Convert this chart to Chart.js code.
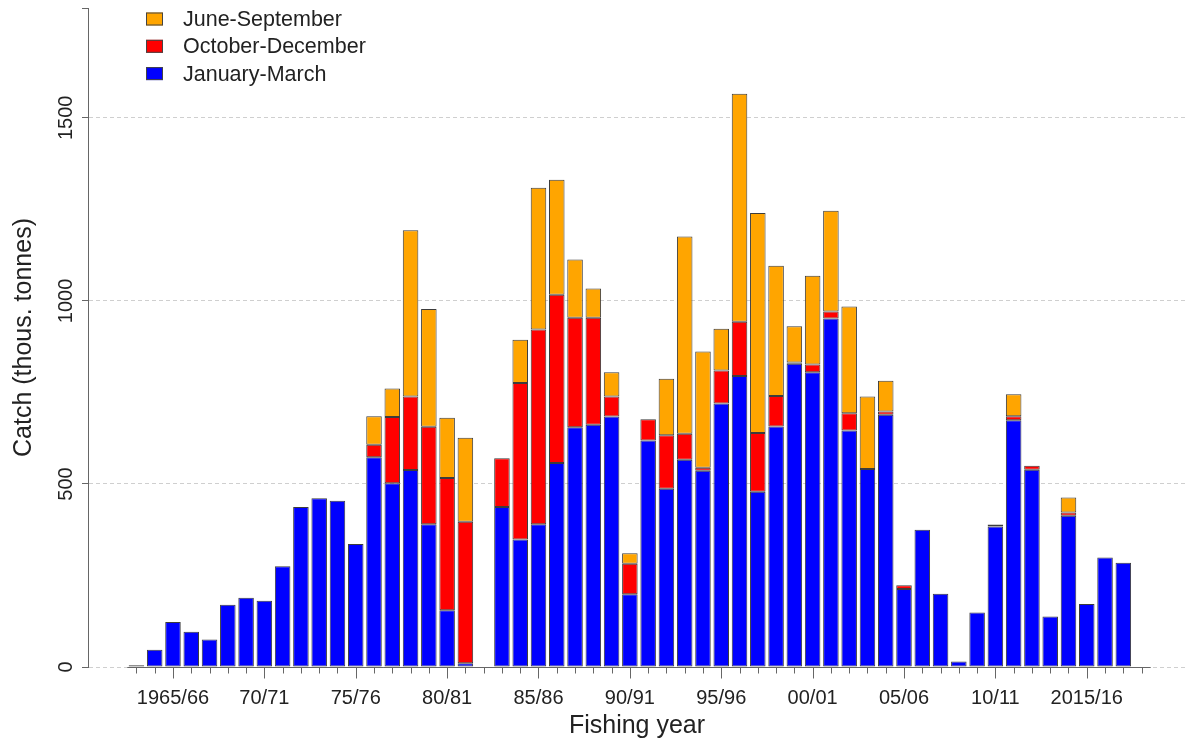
<!DOCTYPE html>
<html>
<head>
<meta charset="utf-8">
<script src="https://cdn.jsdelivr.net/npm/chart.js@4.4.1/dist/chart.umd.min.js"></script>
<style>
  html, body { margin: 0; padding: 0; background: #ffffff; }
  #wrap { width: 1186px; height: 744px; position: relative; }
</style>
</head>
<body>
<div id="wrap"><canvas id="c"></canvas></div>
<script>
// ---- Data ----
const years = ['1963/64','1964/65','1965/66','1966/67','1967/68','1968/69','1969/70','1970/71','1971/72','1972/73',
  '1973/74','1974/75','1975/76','1976/77','1977/78','1978/79','1979/80','1980/81','1981/82','1982/83',
  '1983/84','1984/85','1985/86','1986/87','1987/88','1988/89','1989/90','1990/91','1991/92','1992/93',
  '1993/94','1994/95','1995/96','1996/97','1997/98','1998/99','1999/00','2000/01','2001/02','2002/03',
  '2003/04','2004/05','2005/06','2006/07','2007/08','2008/09','2009/10','2010/11','2011/12','2012/13',
  '2013/14','2014/15','2015/16','2016/17','2017/18','2018/19'];

const janMar = [5,47,123,96,75,170,189,181,275,437,
  461,454,336,573,502,538,390,155,10,null,
  437,348,390,557,655,662,684,199,619,487,
  566,536,720,795,479,657,828,805,952,646,
  541,689,213,375,200,15,149,384,674,539,
  138,413,172,299,285,null];

const octDec = [null,null,null,null,null,null,null,null,null,null,
  null,null,null,34,181,201,266,361,387,null,
  133,428,532,460,299,292,55,83,58,146,
  71,8,90,148,160,83,4,21,19,47,
  null,9,10,null,null,null,null,5,11,11,
  null,9,null,null,null,null];

const junSep = [null,null,null,null,null,null,null,null,null,null,
  null,null,null,78,78,454,322,165,229,null,
  null,118,387,314,159,80,66,29,null,154,
  539,318,114,623,601,356,99,243,275,292,
  198,84,null,null,null,null,null,null,60,null,
  null,41,null,null,null,null];

const tickYears  = ['1965/66','1970/71','1975/76','1980/81','1985/86','1990/91','1995/96','2000/01','2005/06','2010/11','2015/16'];
const tickLabels = ['1965/66','70/71','75/76','80/81','85/86','90/91','95/96','00/01','05/06','10/11','2015/16'];
const yTicks = [0, 500, 1000, 1500];

const seriesNames  = ['January-March','October-December','June-September'];
const seriesColors = ['#0000ff','#ff0000','#ffa500'];

// ---- Build ----
const FONT = "'Liberation Sans', Arial, sans-serif";
const toPts = arr => arr.map((v, i) => ({x: i, y: v}));
const majorIdx = tickYears.map(t => years.indexOf(t));

const datasets = [janMar, octDec, junSep].map((arr, k) => ({
  label: seriesNames[k],
  data: toPts(arr),
  backgroundColor: seriesColors[k],
  borderColor: '#3c3c3c',
  borderWidth: 1,
  borderSkipped: false,
  barPercentage: 0.85,
  categoryPercentage: 1.0
}));

const axisPlugin = {
  id: 'rAxis',
  afterDraw(chart) {
    const {ctx, scales: {x, y}} = chart;
    const y0 = Math.round(y.getPixelForValue(0)) + 0.5;
    ctx.save();
    ctx.strokeStyle = '#666666';
    ctx.lineWidth = 1;
    ctx.beginPath();
    ctx.moveTo(x.getPixelForValue(-0.5), y0);
    ctx.lineTo(x.getPixelForValue(years.length - 0.5), y0);
    years.forEach((yr, i) => {
      const px = Math.round(x.getPixelForValue(i)) + 0.5;
      const len = majorIdx.includes(i) ? 11 : 6;
      ctx.moveTo(px, y0);
      ctx.lineTo(px, y0 + len);
    });
    ctx.stroke();

    // legend inside plot area (top-left), top entry = top of stack
    const ca = chart.chartArea;
    const order = chart.data.datasets.map((d, i) => i).reverse();
    ctx.font = '21.5px ' + FONT;
    ctx.textBaseline = 'middle';
    ctx.textAlign = 'left';
    order.forEach((di, k) => {
      const ds = chart.data.datasets[di];
      const cy = ca.top + 11 + k * 27.3;
      const bx = ca.left + 58;
      ctx.fillStyle = ds.backgroundColor;
      ctx.fillRect(bx, cy - 6.5, 17, 13);
      ctx.strokeStyle = '#444';
      ctx.strokeRect(bx + 0.5, cy - 6, 16, 12);
      ctx.fillStyle = '#222222';
      ctx.fillText(ds.label, ca.left + 95, cy + 1);
    });
    ctx.restore();
  }
};

new Chart(document.getElementById('c'), {
  type: 'bar',
  data: { datasets },
  options: {
    responsive: true,
    maintainAspectRatio: false,
    animation: false,
    layout: { padding: { top: 8, left: 0, right: 0, bottom: 0 } },
    plugins: { legend: { display: false }, tooltip: { enabled: false } },
    scales: {
      x: {
        type: 'linear',
        offset: false,
        stacked: true,
        min: -2.65,
        max: 57.43,
        afterBuildTicks: s => { s.ticks = majorIdx.map(v => ({ value: v })); },
        afterFit: s => { s.height = 77; },
        grid: { display: false, drawTicks: false, tickLength: 0, offset: false },
        border: { display: false },
        ticks: {
          autoSkip: false,
          maxRotation: 0,
          minRotation: 0,
          padding: 19,
          color: '#222222',
          font: { family: FONT, size: 20 },
          callback: v => { const k = majorIdx.indexOf(v); return k >= 0 ? tickLabels[k] : ''; }
        },
        title: {
          display: true,
          text: 'Fishing year',
          color: '#222222',
          font: { family: FONT, size: 25 },
          padding: { top: 0, bottom: 3 }
        }
      },
      y: {
        stacked: true,
        min: 0,
        max: 1800,
        afterBuildTicks: s => { s.ticks = yTicks.concat([1800]).map(v => ({ value: v })); },
        afterFit: s => { s.width = 88; },
        grid: {
          color: c => (c.tick && c.tick.value === 1800) ? 'rgba(0,0,0,0)' : '#cfcfcf',
          tickColor: '#666666',
          tickLength: 6,
          lineWidth: 1
        },
        border: { display: true, color: '#666666', width: 1, dash: [4, 3] },
        ticks: {
          autoSkip: false,
          minRotation: 90,
          maxRotation: 90,
          crossAlign: 'center',
          padding: -7,
          color: '#222222',
          font: { family: FONT, size: 20 },
          callback: v => yTicks.includes(v) ? String(v) : ''
        },
        title: {
          display: true,
          text: 'Catch (thous. tonnes)',
          color: '#222222',
          font: { family: FONT, size: 25 },
          padding: { top: 9, bottom: 0 }
        }
      }
    }
  },
  plugins: [axisPlugin]
});
</script>
</body>
</html>
